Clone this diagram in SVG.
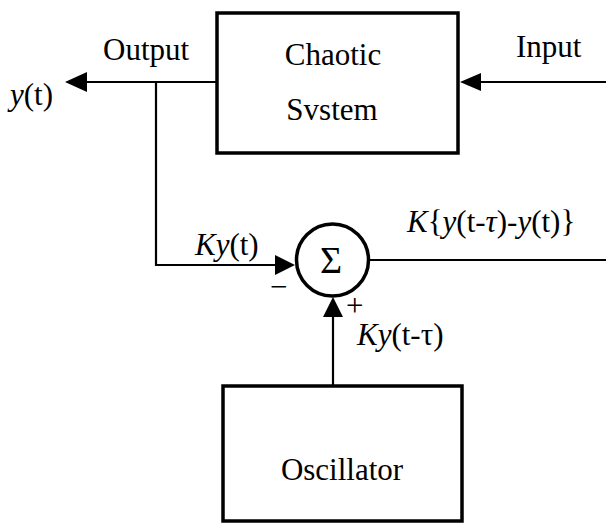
<svg xmlns="http://www.w3.org/2000/svg" width="606" height="524" viewBox="0 0 606 524">
<style>
.box{fill:#fff;stroke:#000;stroke-width:3.5}
.ln{fill:none;stroke:#000;stroke-width:2.2}
.ah{fill:#000}
</style>
<rect width="606" height="524" fill="#fff"/>
<g id="connectors">
<path class="ln" d="M217,82 L80,82"/>
<polygon class="ah" points="65,82 87,72 87,92"/>
<path class="ln" d="M606,82 L475,82"/>
<polygon class="ah" points="460,82 481,73 481,91"/>
<path class="ln" d="M156,82 L156,265 L280,265"/>
<polygon class="ah" points="295,265 275,255 275,275"/>
<path class="ln" d="M333,386 L333,310"/>
<polygon class="ah" points="333,297 323,317 343,317"/>
<path class="ln" d="M368,260 L606,260"/>
</g>
<g id="chaotic">
<rect class="box" x="217" y="13" width="241" height="140"/>
<text x="333" y="65" text-anchor="middle" style="font-family:'Liberation Serif',serif;font-size:31px">Chaotic</text>
<text x="332" y="120" text-anchor="middle" style="font-family:'Liberation Serif',serif;font-size:31px">Svstem</text>
</g>
<g id="sum">
<circle cx="332.5" cy="260" r="36" fill="#fff" stroke="#000" stroke-width="3.5"/>
<text x="331" y="273" text-anchor="middle" style="font-family:'Liberation Serif',serif;font-size:38px">Σ</text>
</g>
<g id="oscillator">
<rect class="box" x="223" y="386" width="239" height="135"/>
<text x="342" y="480" text-anchor="middle" style="font-family:'Liberation Serif',serif;font-size:31px">Oscillator</text>
</g>
<g id="labels">
<text x="103" y="60" style="font-family:'Liberation Serif',serif;font-size:31px">Output</text>
<text x="516" y="57" style="font-family:'Liberation Serif',serif;font-size:31px">Input</text>
<text x="10" y="105" style="font-family:'Liberation Serif',serif;font-size:31px"><tspan font-style="italic">y</tspan>(t)</text>
<text x="195" y="255" style="font-family:'Liberation Serif',serif;font-size:31px"><tspan font-style="italic">Ky</tspan>(t)</text>
<text x="407" y="232" style="font-family:'Liberation Serif',serif;font-size:31px"><tspan font-style="italic">K</tspan>{<tspan font-style="italic">y</tspan>(t-<tspan font-style="italic">τ</tspan>)-<tspan font-style="italic">y</tspan>(t)}</text>
<text x="357" y="345" style="font-family:'Liberation Serif',serif;font-size:31px"><tspan font-style="italic">Ky</tspan>(t-τ)</text>
<text x="270" y="297" style="font-family:'Liberation Serif',serif;font-size:31px">−</text>
<text x="346" y="316" style="font-family:'Liberation Serif',serif;font-size:31px">+</text>
</g>
</svg>
